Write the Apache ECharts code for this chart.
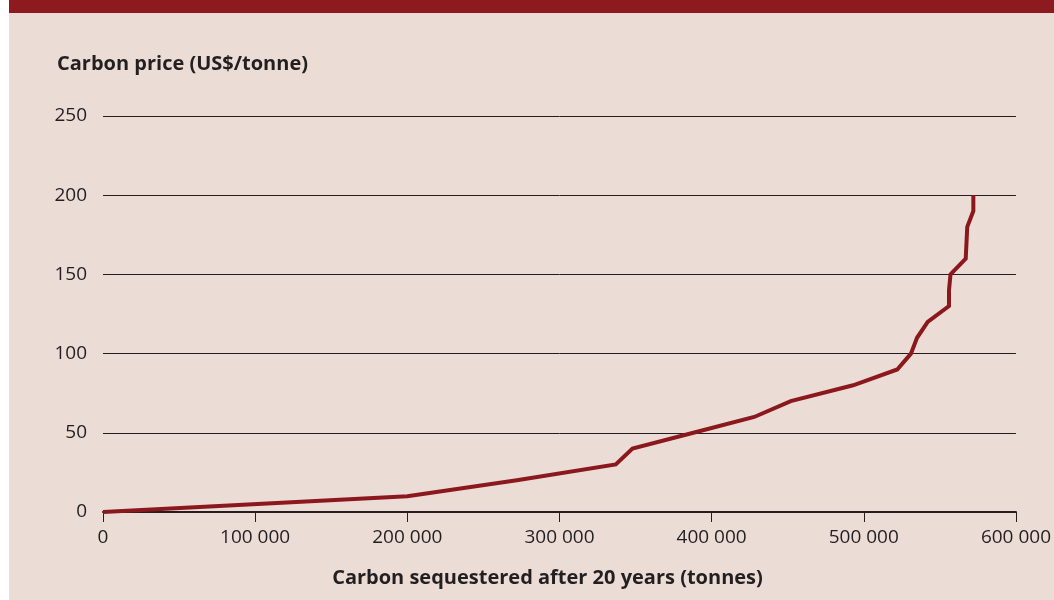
<!DOCTYPE html>
<html>
<head>
<meta charset="utf-8">
<script src="https://cdn.jsdelivr.net/npm/echarts@6/dist/echarts.min.js"></script>
<style>
  html, body { margin: 0; padding: 0; background: #ffffff; }
  #chart { width: 1054px; height: 600px; }
</style>
</head>
<body>
<div id="chart"></div>
<script>
// carbon sequestered (tonnes) vs carbon price (US$/tonne)
const sequestered = [0, 200000, 272000, 337000, 348000, 388000, 428000, 452000, 493000, 522000,
  531000, 535000, 542000, 556000, 556000, 557000, 567000, 568000, 572000, 572000];
const price = [0, 10, 20, 30, 40, 50, 60, 70, 80, 90,
  100, 110, 120, 130, 140, 150, 160, 180, 190, 200];

const yTicks = [0, 50, 100, 150, 200, 250];
const xTicks = [0, 100000, 200000, 300000, 400000, 500000, 600000];

const TEXT_COLOR = "#231f20";
const LINE_COLOR = "#8b181c";
const FONT = "'Open Sans', 'DejaVu Sans', sans-serif";

function fmtThousands(v) {
  return String(v).replace(/\B(?=(\d{3})+(?!\d))/g, " ");
}

let myChart = echarts.init(document.getElementById("chart"));

let option = {
  animation: false,
  textStyle: { fontFamily: FONT, color: TEXT_COLOR },
  graphic: [
    {
      type: "rect",
      z: -10,
      shape: { x: 9, y: 0, width: 1045, height: 600 },
      style: { fill: "#ecdcd6" },
    },
    {
      type: "rect",
      z: -9,
      shape: { x: 9, y: 0, width: 1045, height: 13 },
      style: { fill: "#8c1a1e" },
    },
  ],
  title: {
    text: "Carbon price (US$/tonne)",
    left: 57,
    top: 54,
    padding: 0,
    textStyle: {
      fontFamily: FONT,
      fontSize: 20,
      fontWeight: "bold",
      color: TEXT_COLOR,
    },
  },
  grid: { left: 103, right: 38, top: 116, bottom: 88 },
  xAxis: {
    type: "value",
    min: xTicks[0],
    max: xTicks[xTicks.length - 1],
    interval: 100000,
    name: "Carbon sequestered after 20 years (tonnes)",
    nameLocation: "middle",
    nameGap: 56,
    nameTextStyle: {
      fontFamily: FONT,
      fontSize: 20,
      fontWeight: "bold",
      color: TEXT_COLOR,
      padding: [0, 24, 0, 0],
    },
    axisLine: { show: true, lineStyle: { color: TEXT_COLOR, width: 2 } },
    axisTick: { show: true, length: 10, lineStyle: { color: TEXT_COLOR, width: 1 } },
    splitLine: { show: false },
    axisLabel: {
      fontFamily: FONT,
      fontSize: 19,
      color: TEXT_COLOR,
      margin: 16,
      formatter: function (value) {
        return fmtThousands(value);
      },
    },
  },
  yAxis: {
    type: "value",
    min: yTicks[0],
    max: yTicks[yTicks.length - 1],
    interval: 50,
    axisLine: { show: false },
    axisTick: { show: false },
    splitLine: { show: true, lineStyle: { color: TEXT_COLOR, width: 1 } },
    axisLabel: {
      fontFamily: FONT,
      fontSize: 19,
      color: TEXT_COLOR,
      margin: 16,
      formatter: function (value) {
        return `${value}`;
      },
    },
  },
  series: [
    {
      name: "carbon",
      type: "line",
      data: sequestered.map((x, i) => [x, price[i]]),
      symbol: "none",
      lineStyle: { color: LINE_COLOR, width: 4, join: "miter" },
      z: 5,
    },
  ],
};

option && myChart.setOption(option);
</script>
</body>
</html>
